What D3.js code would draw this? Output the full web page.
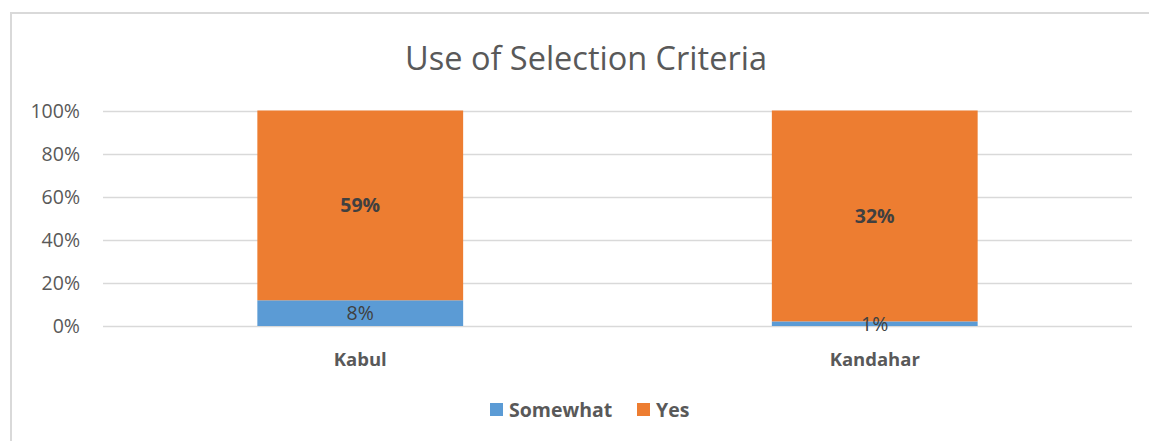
<!DOCTYPE html>
<html>
<head>
<meta charset="utf-8">
<script src="https://cdn.jsdelivr.net/npm/d3@7"></script>
<style>
  body { margin: 0; background: #fff; }
  svg { display: block; font-family: "Open Sans", "Noto Sans", sans-serif; }
</style>
</head>
<body>
<div id="chart"></div>
<script>
const categories = ['Kabul', 'Kandahar']
const seriesNames = ['Somewhat', 'Yes']
const somewhat = [8, 0.7]
const yes = [59, 32]
const yTicks = [0, 0.2, 0.4, 0.6, 0.8, 1]
const colors = ['#5b9bd5', '#ed7d31']

const width = 1149, height = 441
const margin = { top: 110.5, right: 17, bottom: 115, left: 103 }

const svg = d3.select('#chart')
  .append('svg')
  .attr('width', width)
  .attr('height', height)

// chart frame (only left + top visible)
svg.append('path')
  .attr('d', `M11,441 V13 H1149`)
  .attr('fill', 'none')
  .attr('stroke', '#d9d9d9')
  .attr('stroke-width', 2)

const rows = categories.map((c, i) => {
  const total = somewhat[i] + yes[i]
  return { category: c, Somewhat: somewhat[i] / total, Yes: yes[i] / total, raw: [somewhat[i], yes[i]] }
})

const stack = d3.stack().keys(seriesNames)
const layers = stack(rows)

const x = d3.scaleBand()
  .domain(categories)
  .range([margin.left, width - margin.right])
  .paddingInner(0.6)
  .paddingOuter(0.3)

const y = d3.scaleLinear()
  .domain([0, 1])
  .range([height - margin.bottom, margin.top])

// gridlines
svg.append('g')
  .selectAll('line')
  .data(yTicks)
  .enter()
  .append('line')
  .attr('x1', margin.left)
  .attr('x2', width - margin.right)
  .attr('y1', d => Math.round(y(d)) + 0.5)
  .attr('y2', d => Math.round(y(d)) + 0.5)
  .attr('stroke', '#d9d9d9')
  .attr('stroke-width', 1.5)

// y labels
svg.append('g')
  .selectAll('text')
  .data(yTicks)
  .enter()
  .append('text')
  .attr('x', 80)
  .attr('y', d => y(d) + 7)
  .attr('text-anchor', 'end')
  .attr('fill', '#595959')
  .style('font-size', '19.5px')
  .text(d3.format('.0%'))

// bars
const g = svg.append('g')
layers.forEach((layer, li) => {
  g.selectAll('rect.s' + li)
    .data(layer)
    .enter()
    .append('rect')
    .attr('x', d => x(d.data.category))
    .attr('width', x.bandwidth())
    .attr('y', d => y(d[1]))
    .attr('height', d => y(d[0]) - y(d[1]))
    .attr('fill', colors[li])
})

// data labels
layers.forEach((layer, li) => {
  g.selectAll('text.l' + li)
    .data(layer)
    .enter()
    .append('text')
    .attr('x', d => x(d.data.category) + x.bandwidth() / 2)
    .attr('y', d => y((d[0] + d[1]) / 2) + 7)
    .attr('text-anchor', 'middle')
    .attr('fill', '#404040')
    .style('font-size', '19.5px')
    .style('font-weight', li === 1 ? 'bold' : 'normal')
    .text((d, i) => Math.round(d.data.raw[li]) + '%')
})

// x labels
svg.append('g')
  .selectAll('text')
  .data(categories)
  .enter()
  .append('text')
  .attr('x', d => x(d) + x.bandwidth() / 2)
  .attr('y', 366)
  .attr('text-anchor', 'middle')
  .attr('fill', '#595959')
  .style('font-size', '18.5px')
  .style('font-weight', 'bold')
  .text(d => d)

// title
svg.append('text')
  .attr('x', 586)
  .attr('y', 70)
  .attr('text-anchor', 'middle')
  .attr('fill', '#595959')
  .style('font-size', '32.5px')
  .text('Use of Selection Criteria')

// legend
const legendX = [490, 637]
const legend = svg.append('g')
seriesNames.forEach((s, i) => {
  legend.append('rect')
    .attr('x', legendX[i])
    .attr('y', 403)
    .attr('width', 13)
    .attr('height', 13)
    .attr('fill', colors[i])
  legend.append('text')
    .attr('x', legendX[i] + 19)
    .attr('y', 417)
    .attr('fill', '#595959')
    .style('font-size', '19.5px')
    .style('font-weight', 'bold')
    .text(s)
})
</script>
</body>
</html>
